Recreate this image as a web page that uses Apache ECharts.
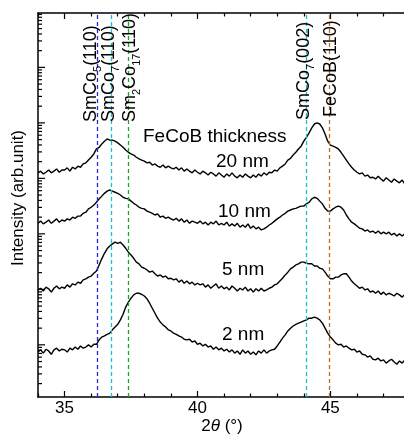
<!DOCTYPE html>
<html>
<head>
<meta charset="utf-8">
<script src="https://cdn.jsdelivr.net/npm/echarts@6/dist/echarts.min.js"></script>
<style>html,body{margin:0;padding:0;background:#fff;}#chart{width:404px;height:436px;}</style>
</head>
<body>
<div id="chart"></div>
<script>
// ---- data (2θ in degrees, log10 of intensity in arbitrary units) ----
const twoTheta = Array.from({length: 141}, (_, i) => +(34 + i * 0.1).toFixed(1));

const log10I_20nm = [4.10,4.13,4.08,4.11,4.15,4.10,4.13,4.17,4.11,4.15, 4.15,4.19,4.13,4.20,4.17,4.22,4.20,4.26,4.28,4.33,
  4.38,4.44,4.53,4.56,4.62,4.67,4.71,4.69,4.69,4.67, 4.64,4.60,4.56,4.51,4.47,4.44,4.42,4.38,4.35,4.33,
  4.31,4.28,4.29,4.24,4.26,4.22,4.20,4.24,4.19,4.22, 4.19,4.17,4.20,4.15,4.19,4.13,4.17,4.13,4.10,4.15,
  4.11,4.08,4.13,4.10,4.06,4.11,4.08,4.04,4.10,4.06, 4.02,4.08,4.04,4.10,4.04,4.01,4.06,4.02,4.08,4.04,
  4.01,4.06,4.02,4.08,4.04,4.10,4.06,4.11,4.10,4.15, 4.13,4.19,4.22,4.26,4.33,4.36,4.42,4.47,4.53,4.58,
  4.67,4.74,4.82,4.91,4.98,5.00,4.98,4.91,4.80,4.67, 4.60,4.58,4.56,4.53,4.47,4.40,4.33,4.26,4.20,4.15,
  4.11,4.08,4.10,4.04,4.06,4.01,4.02,3.99,4.04,3.99, 3.95,4.01,3.97,3.93,3.99,3.95,3.92,3.97,3.90,3.93,
  3.92];

const log10I_10nm = [3.19,3.23,3.18,3.21,3.25,3.19,3.23,3.27,3.21,3.25, 3.23,3.27,3.25,3.30,3.28,3.32,3.32,3.37,3.39,3.45,
  3.48,3.52,3.57,3.63,3.68,3.73,3.77,3.79,3.77,3.75, 3.73,3.70,3.66,3.64,3.63,3.59,3.55,3.52,3.48,3.46,
  3.45,3.41,3.39,3.37,3.34,3.36,3.30,3.32,3.28,3.30, 3.27,3.25,3.28,3.23,3.27,3.21,3.25,3.19,3.23,3.21,
  3.19,3.23,3.18,3.21,3.16,3.21,3.18,3.23,3.16,3.19, 3.16,3.21,3.14,3.18,3.14,3.19,3.12,3.16,3.12,3.18,
  3.10,3.14,3.09,3.12,3.07,3.09,3.12,3.16,3.19,3.23, 3.27,3.30,3.34,3.37,3.41,3.43,3.45,3.46,3.48,3.50,
  3.50,3.54,3.57,3.63,3.66,3.64,3.59,3.54,3.46,3.41, 3.41,3.45,3.48,3.50,3.48,3.43,3.34,3.27,3.21,3.18,
  3.14,3.10,3.09,3.05,3.07,3.03,3.05,3.01,3.05,3.00, 3.03,3.00,3.03,2.98,3.01,2.96,3.00,2.96,3.00,2.94,
  2.98];

const log10I_5nm = [1.99,2.02,1.97,2.04,2.01,1.95,2.02,2.06,2.01,2.04, 2.02,2.08,2.04,2.10,2.08,2.13,2.11,2.17,2.19,2.22,
  2.24,2.29,2.33,2.44,2.55,2.65,2.73,2.78,2.82,2.85, 2.83,2.85,2.80,2.74,2.67,2.62,2.56,2.49,2.46,2.40,
  2.38,2.35,2.31,2.33,2.28,2.24,2.26,2.22,2.24,2.19, 2.20,2.17,2.19,2.13,2.17,2.11,2.15,2.10,2.13,2.08,
  2.11,2.08,2.10,2.04,2.08,2.02,2.06,2.10,2.02,2.06, 2.01,2.04,1.99,2.06,2.02,1.97,2.02,1.99,2.04,1.97,
  2.01,1.95,2.01,1.97,2.02,1.97,1.99,2.02,2.04,2.08, 2.10,2.15,2.20,2.26,2.31,2.37,2.40,2.44,2.46,2.49,
  2.49,2.47,2.46,2.46,2.42,2.42,2.38,2.37,2.31,2.24, 2.19,2.19,2.22,2.22,2.26,2.28,2.28,2.22,2.15,2.10,
  2.06,2.02,2.04,1.99,2.01,1.95,1.97,1.93,1.97,1.91, 1.95,1.90,1.93,1.91,1.88,1.93,1.90,1.86,1.91,1.88,
  1.90];

const log10I_2nm = [0.87,0.91,0.85,0.92,0.89,0.83,0.91,0.94,0.89,0.92, 0.91,0.87,0.94,0.91,0.96,0.92,0.98,0.94,0.96,1.00,
  0.96,1.01,1.01,1.09,1.14,1.16,1.19,1.21,1.27,1.32, 1.37,1.45,1.55,1.68,1.77,1.84,1.90,1.93,1.93,1.91,
  1.88,1.83,1.75,1.66,1.57,1.48,1.41,1.36,1.32,1.27, 1.25,1.21,1.19,1.16,1.14,1.10,1.09,1.10,1.05,1.07,
  1.01,1.03,0.98,1.01,0.96,0.98,0.92,0.96,0.91,0.94, 0.89,0.92,0.87,0.91,0.85,0.89,0.83,0.91,0.85,0.89,
  0.83,0.87,0.82,0.89,0.85,0.91,0.85,0.89,0.91,0.92, 0.98,1.05,1.12,1.18,1.25,1.30,1.34,1.37,1.39,1.41,
  1.43,1.45,1.48,1.48,1.50,1.48,1.45,1.39,1.30,1.21, 1.14,1.09,1.03,1.00,1.01,0.96,0.98,0.94,0.91,0.92,
  0.87,0.89,0.83,0.82,0.78,0.80,0.74,0.73,0.76,0.71, 0.73,0.67,0.71,0.74,0.69,0.65,0.71,0.67,0.73,0.69,
  0.71];

const peakNames = ['SmCo{s|5}(110)', 'SmCo{s|7}(110)', 'Sm{s|2}Co{s|17}(110)', 'SmCo{s|7}(002)', 'FeCoB(110)'];
const peakPositions = [36.22, 36.76, 37.41, 44.09, 44.96];
const thicknessLabels = ['20 nm', '10 nm', '5 nm', '2 nm'];

const xMajorTicks = [35, 40, 45];
const xMinorTicks = [34, 36, 37, 38, 39, 41, 42, 43, 44, 46, 47];
const yDecades = [0, 1, 2, 3, 4, 5, 6];
const yMinorMultipliers = [2, 3, 4, 5, 6, 7, 8, 9];
const xRange = [34, 47.77];   // visible part of the 34–48° scan (frame cut at the right)
const yLogRange = [0.06, 6.98];

// ---- build ----
const FONT = 'Liberation Sans';
const peakColors = ['#2626d4', '#12c4cc', '#1aa81a', '#12c4cc', '#c26a22'];
const yMin = Math.pow(10, yLogRange[0]), yMax = Math.pow(10, yLogRange[1]);

const yTicks = [];
yDecades.forEach(d => {
  const v = Math.pow(10, d);
  if (v >= yMin && v <= yMax) yTicks.push([xRange[0], v, 1]);
  yMinorMultipliers.forEach(m => {
    const w = m * Math.pow(10, d);
    if (w >= yMin && w <= yMax) yTicks.push([xRange[0], w, 0]);
  });
});

function curve(arr) { return twoTheta.map((t, i) => [t, Math.pow(10, arr[i])]); }

function xAxisDef(pos, ticks, len, withLabel, showLine) {
  return {
    type: 'value', position: pos, min: xRange[0], max: xRange[1],
    axisLine: { show: showLine, onZero: false, lineStyle: { color: '#000', width: 1.5 } },
    axisTick: { show: true, inside: true, length: len, customValues: ticks, lineStyle: { color: '#000', width: 1.2 } },
    axisLabel: withLabel ? { show: true, customValues: ticks, fontSize: 17, fontFamily: FONT, color: '#000', margin: 3 } : { show: false },
    splitLine: { show: false }
  };
}

const chart = echarts.init(document.getElementById('chart'), null, { renderer: 'canvas' });

const lineSeries = [log10I_20nm, log10I_10nm, log10I_5nm, log10I_2nm].map((arr, k) => ({
  type: 'line', name: thicknessLabels[k], data: curve(arr), showSymbol: false, symbol: 'none',
  lineStyle: { color: '#000', width: 1.4 }, silent: true, animation: false, z: 3, clip: true,
  markLine: k === 0 ? {
    symbol: 'none', silent: true, animation: false,
    label: { show: false },
    data: peakPositions.map((p, i) => ({ xAxis: p, lineStyle: { color: peakColors[i], type: [4, 3], width: 1.3, opacity: 1 } }))
  } : undefined
}));

const richSub = { s: { fontSize: 11, fontFamily: FONT, verticalAlign: 'bottom', lineHeight: 12 } };
const peakLabelPos = [[91, 122], [109.5, 122], [130, 122], [304.5, 120], [331, 117]];
const peakGraphics = peakNames.map((t, i) => ({
  type: 'text', x: peakLabelPos[i][0], y: peakLabelPos[i][1], rotation: Math.PI / 2, z: 10,
  style: { text: t, fontSize: 18, fontFamily: FONT, fill: '#000', align: 'left', verticalAlign: 'middle', lineHeight: 24, rich: richSub }
}));

const thickPos = [[216, 162], [218, 211.5], [222, 270], [222, 335]];
const thickGraphics = thicknessLabels.map((t, i) => ({
  type: 'text', x: thickPos[i][0], y: thickPos[i][1], z: 10,
  style: { text: t, fontSize: 19, fontFamily: FONT, fill: '#000', align: 'left', verticalAlign: 'middle' }
}));

chart.setOption({
  animation: false,
  backgroundColor: '#fff',
  grid: { left: 38, right: 0, top: 13, bottom: 39, containLabel: false },
  xAxis: [
    xAxisDef('bottom', xMajorTicks, 6, true, true),
    xAxisDef('bottom', xMinorTicks, 3.5, false, false),
    xAxisDef('top', xMajorTicks, 6, false, true),
    xAxisDef('top', xMinorTicks, 3.5, false, false)
  ],
  yAxis: {
    type: 'log', logBase: 10, min: yMin, max: yMax,
    axisLine: { show: true, onZero: false, lineStyle: { color: '#000', width: 1.5 } },
    axisTick: { show: false }, axisLabel: { show: false }, splitLine: { show: false }, minorTick: { show: false }
  },
  series: lineSeries.concat([{
    type: 'custom', silent: true, animation: false, clip: false, z: 4,
    data: yTicks,
    renderItem: function (params, api) {
      const p = api.coord([api.value(0), api.value(1)]);
      const len = api.value(2) ? 7 : 4;
      return { type: 'line', shape: { x1: p[0], y1: p[1], x2: p[0] + len, y2: p[1] }, style: { stroke: '#000', lineWidth: 1.2 } };
    }
  }]),
  graphic: peakGraphics.concat(thickGraphics).concat([
    { type: 'text', x: 143, y: 136.5, z: 10,
      style: { text: 'FeCoB thickness', fontSize: 19, fontFamily: FONT, fill: '#000', align: 'left', verticalAlign: 'middle' } },
    { type: 'text', x: 18, y: 198, rotation: Math.PI / 2, z: 10,
      style: { text: 'Intensity (arb.unit)', fontSize: 17, fontFamily: FONT, fill: '#000', align: 'center', verticalAlign: 'middle' } },
    { type: 'text', x: 222, y: 426.5, z: 10,
      style: { text: '{n|2}{t|θ}{n| (°)}', align: 'center', verticalAlign: 'middle',
        rich: { n: { fontSize: 17, fontFamily: FONT, fill: '#000' }, t: { fontSize: 17, fontFamily: FONT, fontStyle: 'italic', fill: '#000' } } } }
  ])
});
</script>
</body>
</html>
